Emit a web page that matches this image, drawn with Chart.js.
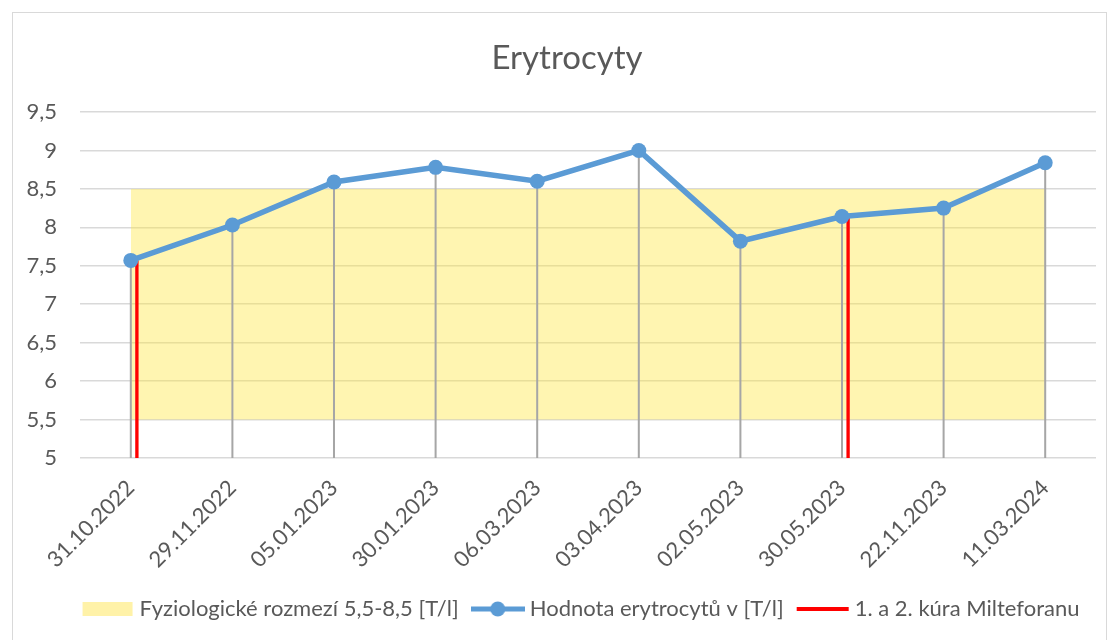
<!DOCTYPE html>
<html lang="cs">
<head>
<meta charset="utf-8">
<title>Erytrocyty</title>
<script src="https://cdn.jsdelivr.net/npm/chart.js@4.4.1/dist/chart.umd.min.js"></script>
<style>
  html, body { margin: 0; padding: 0; background: #fff; }
  #wrap { position: relative; width: 1112px; height: 640px; overflow: hidden; }
  #frame { position: absolute; left: 12px; top: 12px; width: 1093px; height: 700px; border: 1px solid #d9d9d9; }
  #box { position: absolute; left: 0; top: 0; width: 1112px; height: 640px; }
</style>
</head>
<body>
<div id="wrap">
  <div id="frame"></div>
  <div id="box"><canvas id="erytroChart"></canvas></div>
</div>
<script>
// data
const dates = ['31.10.2022', '29.11.2022', '05.01.2023', '30.01.2023', '06.03.2023',
    '03.04.2023', '02.05.2023', '30.05.2023', '22.11.2023', '11.03.2024'];
const erytroValues = [7.57, 8.03, 8.59, 8.78, 8.6, 9.0, 7.82, 8.14, 8.25, 8.84];
const rangeLow = 5.5;
const rangeHigh = 8.5;
const cureDates = ['31.10.2022', '30.05.2023'];
const yMin = 5;
const yMax = 9.5;
const yStep = 0.5;
const legendTexts = ['Fyziologické rozmezí 5,5-8,5 [T/l]', 'Hodnota erytrocytů v [T/l]', '1. a 2. kúra Milteforanu'];

const TEXT = '#595959';
const FONT = 'Lato';
const BLUE = '#5b9bd5';

function legendIcon(draw) {
    const c = document.createElement('canvas');
    c.width = 54; c.height = 16;
    draw(c.getContext('2d'));
    return c;
}
const iconBand = legendIcon((g) => { g.fillStyle = '#fff2a8'; g.fillRect(2, 1, 50, 14); });
const iconLine = legendIcon((g) => {
    g.strokeStyle = BLUE; g.lineWidth = 5;
    g.beginPath(); g.moveTo(0, 8); g.lineTo(54, 8); g.stroke();
    g.fillStyle = BLUE; g.beginPath(); g.arc(27, 8, 7.5, 0, Math.PI * 2); g.fill();
});
const iconCure = legendIcon((g) => { g.fillStyle = '#ff0000'; g.fillRect(1, 6, 52, 4); });

// Excel centres title and legend a bit right of the canvas middle
function shiftBox(box, dx) {
    if (!box) return;
    box.left += dx;
    box.right += dx;
}
const shiftBoxes = {
    id: 'shiftBoxes',
    afterLayout(chart) {
        shiftBox(chart.titleBlock, 12);
        shiftBox(chart.legend, 28);
    },
};

new Chart(document.getElementById('erytroChart'), {
    type: 'bar',
    plugins: [shiftBoxes],
    data: {
        labels: dates,
        datasets: [
            {
                type: 'line', label: legendTexts[0], order: 2,
                data: dates.map(() => rangeHigh),
                fill: { value: rangeLow },
                backgroundColor: 'rgba(255, 230, 60, 0.4)',
                borderWidth: 0, pointRadius: 0, pointHoverRadius: 0,
            },
            {
                type: 'line', label: legendTexts[1], order: 0,
                data: erytroValues,
                borderColor: BLUE, borderWidth: 5.5,
                pointRadius: 7.5, pointHoverRadius: 7.5,
                pointBackgroundColor: BLUE, pointBorderWidth: 0,
            },
            // spacer so the gray drop lines sit centred and red ones shift right
            { label: 'spacer', order: 1, stack: 's0', data: dates.map(() => null) },
            {
                label: 'drop', order: 1, stack: 's1',
                data: erytroValues.map((v) => [yMin, v]),
                backgroundColor: '#a6a6a6',
                categoryPercentage: 0.18, barPercentage: 0.33,
            },
            {
                label: legendTexts[2], order: 1, stack: 's2',
                data: dates.map((d, i) => (cureDates.includes(d) ? [yMin, erytroValues[i]] : null)),
                backgroundColor: '#ff0000',
                categoryPercentage: 0.18, barPercentage: 0.55,
            },
        ],
    },
    options: {
        responsive: true,
        maintainAspectRatio: false,
        animation: false,
        events: [],
        layout: { padding: { left: 14, right: 16, top: 0, bottom: 10 } },
        plugins: {
            tooltip: { enabled: false },
            title: {
                display: true, text: 'Erytrocyty', color: TEXT,
                font: { family: FONT, size: 33, weight: 'normal' },
                padding: { top: 38.7, bottom: 33.7 },
            },
            legend: {
                position: 'bottom',
                onClick: null,
                labels: {
                    color: TEXT,
                    font: { family: FONT, size: 22 },
                    usePointStyle: true,
                    pointStyleWidth: 42,
                    padding: 18,
                    generateLabels: () => [0, 1, 4].map((di, k) => ({
                        text: legendTexts[k],
                        pointStyle: [iconBand, iconLine, iconCure][k],
                        fillStyle: 'transparent', strokeStyle: 'transparent', lineWidth: 0,
                        fontColor: TEXT, hidden: false, datasetIndex: di,
                    })),
                },
            },
        },
        scales: {
            x: {
                offset: true,
                grid: { display: false },
                border: { display: false },
                ticks: {
                    color: TEXT, font: { family: FONT, size: 22 },
                    maxRotation: 45, minRotation: 45, padding: 9,
                },
                afterFit: (s) => { s.height = 122; },
            },
            y: {
                min: yMin, max: yMax,
                grid: { color: '#d9d9d9', lineWidth: 1.5, drawTicks: false },
                border: { display: false },
                ticks: {
                    stepSize: yStep, padding: 23,
                    color: TEXT, font: { family: FONT, size: 22 },
                    callback: (v) => String(v).replace('.', ','),
                },
                afterFit: (s) => { s.width = 66; },
            },
        },
    },
});
</script>
</body>
</html>
